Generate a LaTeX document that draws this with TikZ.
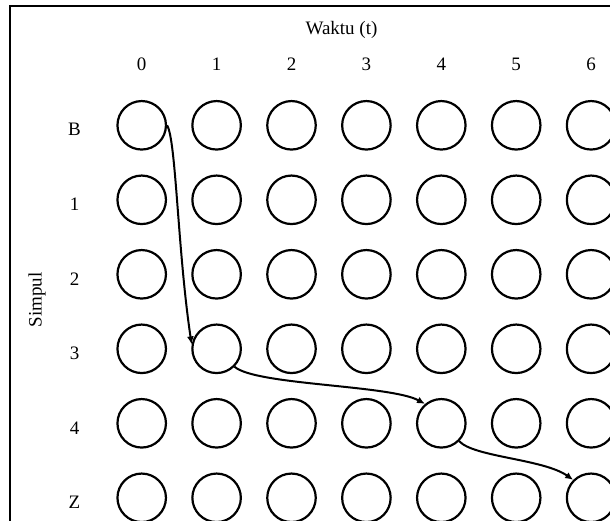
\documentclass[tikz,border=0pt]{standalone}
\usepackage{fontspec}
\setmainfont{Liberation Serif}
\usetikzlibrary{arrows.meta,calc}
\begin{document}
\begin{tikzpicture}[x=1pt,y=-1pt,
  nd/.style={draw,circle,line width=2.2pt,minimum size=48.5pt,inner sep=0pt},
  lbl/.style={font=\fontsize{19}{22}\selectfont,anchor=base,inner sep=0pt},
  arr/.style={line width=2pt,-{Latex[length=8pt,width=7pt]}},
  frame/.style={line width=2.2pt}]
\useasboundingbox (0,0) rectangle (610,521);
\clip (0,0) rectangle (610,521);
\draw[frame] (10,5.7) rectangle (700,600);
% circles
\foreach \r in {0,...,5}{
  \foreach \k in {0,...,6}{
    \node[nd] (c-\r-\k) at ({141.7+74.9*\k},{125.3+74.5*\r}) {};
  }
}
% column labels
\foreach \k in {0,...,6}{
  \node[lbl] (t-\k) at ({141.7+74.9*\k},70.5) {\k};
}
% row labels
\foreach \t [count=\i from 0] in {B,1,2,3,4,Z}{
  \node[lbl] (s-\i) at (74.5,{136+74.5*\i}) {\t};
}
\node[lbl] (waktu) at (341.5,34.5) {Waktu (t)};
\node[lbl,rotate=90] (simpul) at (41.7,300) {Simpul};
% arrows
\draw[arr] (c-0-0.east) .. controls ($(c-0-0.east)+(9,14)$) and ($(c-3-1.170)+(-14,-94)$) .. (c-3-1.170);
\draw[arr] (c-3-1.south east) .. controls ($(c-3-1.south east)+(21,18.5)$) and ($(c-4-4.130)+(-35,-19)$) .. (c-4-4.130);
\draw[arr] (c-4-4.south east) .. controls ($(c-4-4.south east)+(15,16)$) and ($(c-5-6.135)+(-30,-21)$) .. (c-5-6.135);
\end{tikzpicture}
\end{document}
